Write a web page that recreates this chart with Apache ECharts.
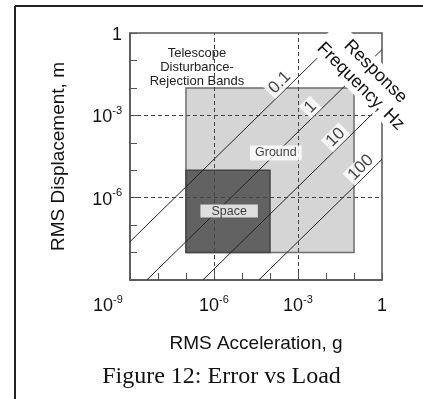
<!DOCTYPE html>
<html>
<head>
<meta charset="utf-8">
<script src="https://cdn.jsdelivr.net/npm/echarts@6/dist/echarts.min.js"></script>
<style>
  html, body { margin: 0; padding: 0; background: #fff; }
  #chart { width: 423px; height: 399px; }
</style>
</head>
<body>
<div id="chart"></div>
<script>
// response-frequency lines (Hz), endpoints: accel in g, displacement in m
const freqs = ['0.1', '1', '10', '100']
const lineStartAccel = [1e-9, 4e-9, 4e-7, 4e-5]
const lineStartDisp = [2.5e-8, 1e-9, 1e-9, 1e-9]
const lineEndAccel = [0.04, 1, 1, 1]
const lineEndDisp = [1, 0.25, 2.5e-3, 2.5e-5]

// disturbance-rejection bands
const bandNames = ['Ground', 'Space']
const bandAccelMin = [1e-7, 1e-7]
const bandAccelMax = [1e-1, 1e-4]
const bandDispMin = [1e-8, 1e-8]
const bandDispMax = [1e-2, 1e-5]

// labelled decades (exponents)
const labelExps = [-9, -6, -3, 0]

const lg = Math.log10
const FONT = 'Liberation Sans, Arial, sans-serif'

function tickLabel(v, isX) {
  if (!labelExps.includes(v)) return ''
  if (v === 0) return '{b|1}'
  if (v === -9) return isX ? '{b|10}{sup|-9}{pad|}' : ''
  return '{b|10}{sup|' + v + '}'
}

const richTick = {
  b: { fontSize: 18, fontFamily: FONT, color: '#111', verticalAlign: 'bottom', lineHeight: 22 },
  sup: { fontSize: 11, fontFamily: FONT, color: '#111', verticalAlign: 'bottom', padding: [0, 0, 10, 0], lineHeight: 22 },
  pad: { width: 44 },
}

const bandFill = ['#d5d5d5', '#626262']
const bandBorder = ['#6e6e6e', '#444']
const bandLabelPad = [[1, 5], [0, 11]]
// label anchors for band names (log coords)
const bandLabelAt = [[-3.79, -4.37], [-5.46, -6.49]]
// label anchors along each frequency line (log accel)
const freqLabelAt = [-3.2, -2.1, -1.2, -0.3]

const chart = echarts.init(document.getElementById('chart'))

const series = []

// bands as mark areas
series.push({
  type: 'line',
  data: [],
  z: 2,
  silent: true,
  markArea: {
    silent: true,
    label: { show: false },
    data: bandNames.map((n, i) => [
      {
        coord: [lg(bandAccelMin[i]), lg(bandDispMin[i])],
        itemStyle: { color: bandFill[i], borderColor: bandBorder[i], borderWidth: 1.5 },
      },
      { coord: [lg(bandAccelMax[i]), lg(bandDispMax[i])] },
    ]),
  },
})

// dashed decade grid over the bands
series.push({
  type: 'line',
  data: [],
  z: 3,
  silent: true,
  markLine: {
    silent: true,
    symbol: 'none',
    label: { show: false },
    lineStyle: { color: '#444', type: [4, 3], width: 1 },
    data: [{ xAxis: -6 }, { xAxis: -3 }, { yAxis: -3 }, { yAxis: -6 }],
  },
})

freqs.forEach((f, i) => {
  series.push({
    type: 'line',
    z: 4,
    silent: true,
    showSymbol: false,
    lineStyle: { color: '#222', width: 1 },
    data: [
      [lg(lineStartAccel[i]), lg(lineStartDisp[i])],
      [lg(lineEndAccel[i]), lg(lineEndDisp[i])],
    ],
  })
})

// frequency labels, sat just above each line
series.push({
  type: 'scatter',
  z: 6,
  silent: true,
  symbolSize: 0,
  data: freqs.map((f, i) => {
    const k = lg(lineEndDisp[i]) - lg(lineEndAccel[i])
    return { value: [freqLabelAt[i], freqLabelAt[i] + k], name: f }
  }),
  label: {
    show: true,
    position: 'inside',
    formatter: (p) => p.name,
    rotate: 45,
    offset: [-9, -9],
    fontSize: 17,
    fontFamily: FONT,
    color: '#111',
    backgroundColor: '#fff',
    padding: [0, 3],
  },
})

// band names
series.push({
  type: 'scatter',
  z: 6,
  silent: true,
  symbolSize: 0,
  data: bandNames.map((n, i) => ({
    value: bandLabelAt[i],
    name: n,
    label: { padding: bandLabelPad[i] },
  })),
  label: {
    show: true,
    position: 'inside',
    formatter: (p) => p.name,
    fontSize: 12.5,
    fontFamily: FONT,
    color: '#111',
    backgroundColor: '#fff',
  },
})

chart.setOption({
  animation: false,
  backgroundColor: '#fff',
  grid: {
    left: 130, right: 41, top: 33, bottom: 119,
    show: true, borderColor: '#555', borderWidth: 1.5,
  },
  xAxis: {
    type: 'value',
    min: -9, max: 0, interval: 1,
    name: 'RMS Acceleration, g',
    nameLocation: 'middle',
    nameGap: 54,
    nameTextStyle: { fontSize: 19, fontFamily: FONT, color: '#111' },
    axisLine: { show: true, onZero: false, lineStyle: { color: '#555', width: 1.5 } },
    axisTick: { inside: true, length: 7, lineStyle: { color: '#555' } },
    axisLabel: { margin: 13, formatter: (v) => tickLabel(v, true), rich: richTick },
    splitLine: { show: false },
  },
  yAxis: {
    type: 'value',
    min: -9, max: 0, interval: 1,
    name: 'RMS Displacement, m',
    nameLocation: 'middle',
    nameGap: 62,
    nameTextStyle: { fontSize: 19, fontFamily: FONT, color: '#111' },
    axisLine: { show: true, onZero: false, lineStyle: { color: '#555', width: 1.5 } },
    axisTick: { inside: true, length: 7, lineStyle: { color: '#555' } },
    axisLabel: { margin: 8, formatter: (v) => tickLabel(v, false), rich: richTick },
    splitLine: { show: false },
  },
  series,
  graphic: [
    // page frame (top and left rules)
    { type: 'line', z: 100, shape: { x1: 15, y1: 6, x2: 423, y2: 6 }, style: { stroke: '#222', lineWidth: 2 } },
    { type: 'line', z: 100, shape: { x1: 15, y1: 6, x2: 15, y2: 399 }, style: { stroke: '#222', lineWidth: 2 } },
    {
      type: 'text', z: 100, x: 197, y: 67,
      style: {
        text: 'Telescope\nDisturbance-\nRejection Bands',
        font: '13px ' + FONT, fill: '#222',
        textAlign: 'center', textVerticalAlign: 'middle', lineHeight: 14,
      },
    },
    {
      type: 'text', z: 100, x: 368, y: 79, rotation: -Math.PI / 4,
      style: {
        text: 'Response\nFrequency, Hz',
        font: '18px ' + FONT, fill: '#111',
        textAlign: 'center', textVerticalAlign: 'middle', lineHeight: 21,
        backgroundColor: '#fff', padding: [0, 3],
      },
    },
    {
      type: 'text', z: 100, x: 221.5, y: 377,
      style: {
        text: 'Figure 12: Error vs Load',
        font: '24px Liberation Serif, Times New Roman, serif', fill: '#111',
        textAlign: 'center', textVerticalAlign: 'middle',
      },
    },
  ],
})
</script>
</body>
</html>
